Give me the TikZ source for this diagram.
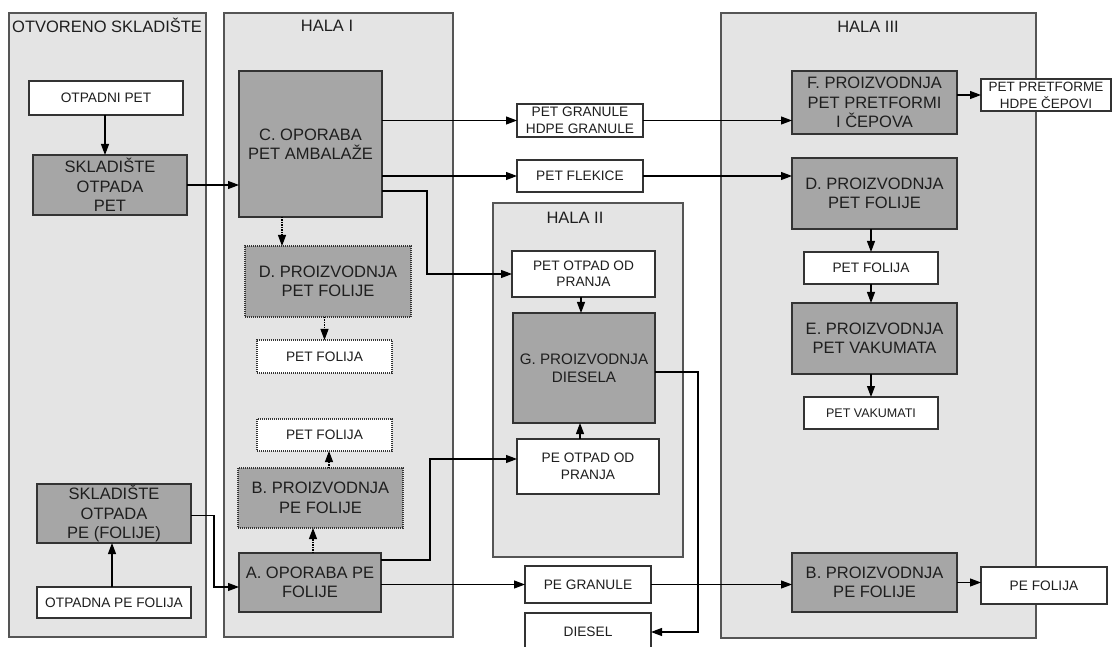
\documentclass[tikz,border=0pt]{standalone}
\usepackage{fontspec}
\setmainfont{Liberation Sans}
\usetikzlibrary{arrows.meta,calc}
\definecolor{cont}{HTML}{E4E4E4}
\definecolor{contb}{HTML}{555555}
\definecolor{gfill}{HTML}{A6A6A6}
\definecolor{bord}{HTML}{333333}
\definecolor{txt}{HTML}{1E1E1E}
\begin{document}
\begin{tikzpicture}[x=1pt,y=-1pt,
 sz/.style 2 args={minimum width=#1pt, minimum height=#2pt},
 container/.style={draw=contb, fill=cont, line width=1.5pt, inner sep=0, outer sep=0},
 title/.style={text=txt, font=\fontsize{16.5}{19.5}\selectfont, inner sep=0},
 gbox/.style={draw=bord, fill=gfill, line width=1.4pt, inner sep=0, outer sep=0, text=txt, align=center, font=\fontsize{16.5}{19.5}\selectfont},
 wbox/.style={draw=bord, fill=white, line width=1.4pt, inner sep=0, outer sep=0, text=txt, align=center, font=\fontsize{13.7}{16.5}\selectfont},
 dotb/.style={dash pattern=on 1pt off 1pt, line width=1.1pt},
 conn/.style={draw=black, line width=1.1pt, -{Triangle[length=11pt,width=8pt]}},
 dconn/.style={conn, dash pattern=on 1.5pt off 1pt}
]
\useasboundingbox (0,0) rectangle (1112,647);
% containers
\node[container, sz={197}{624}] (os) at (107.5,325) {};
\node[container, sz={229}{624}] (h1) at (338.5,325) {};
\node[container, sz={190}{354}] (h2) at (588,380) {};
\node[container, sz={315}{625}] (h3) at (878.5,325.5) {};
\node[title, anchor=west] (tos) at (12,25) {OTVORENO SKLADIŠTE};
\node[title] (th1) at (327,26) {HALA I};
\node[title] (th2) at (575,218) {HALA II};
\node[title] (th3) at (868,27) {HALA III};
% nodes
\node[wbox, sz={154}{34}] (otpet) at (106,98) {OTPADNI PET};
\node[gbox, sz={154}{60}] (skpet) at (110,185) {SKLADIŠTE\\OTPADA\\PET};
\node[gbox, sz={143}{146}] (C) at (310.5,144) {C. OPORABA\\PET AMBALAŽE};
\node[gbox, dotb, sz={166}{71}] (D1) at (328,281.5) {D. PROIZVODNJA\\PET FOLIJE};
\node[wbox, dotb, sz={135}{33}] (pf1) at (324.5,356.5) {PET FOLIJA};
\node[wbox, dotb, sz={135}{32}] (pf2) at (324.5,435) {PET FOLIJA};
\node[gbox, dotb, sz={165}{60}] (B1) at (320.5,498) {B. PROIZVODNJA\\PE FOLIJE};
\node[gbox, sz={142}{59}] (A) at (310,582.5) {A. OPORABA PE\\FOLIJE};
\node[gbox, sz={154}{59}] (skpe) at (114,513.5) {SKLADIŠTE\\OTPADA\\PE (FOLIJE)};
\node[wbox, sz={154}{31}] (otpe) at (114,602.5) {OTPADNA PE FOLIJA};
\node[wbox, sz={126}{33}] (gran) at (580,120.5) {PET GRANULE\\HDPE GRANULE};
\node[wbox, sz={126}{32}] (flek) at (580,176) {PET FLEKICE};
\node[wbox, sz={143}{46}] (petotp) at (583.5,274) {PET OTPAD OD\\PRANJA};
\node[gbox, sz={142}{110}, font=\fontsize{15.2}{18.3}\selectfont] (G) at (584,368) {G. PROIZVODNJA\\DIESELA};
\node[wbox, sz={142}{55}] (peotp) at (588,466.5) {PE OTPAD OD\\PRANJA};
\node[wbox, sz={126}{37}] (pegran) at (588,584.5) {PE GRANULE};
\node[wbox, sz={126}{38}] (diesel) at (588,632) {DIESEL};
\node[gbox, sz={165}{63}] (F) at (874.5,102.5) {F. PROIZVODNJA\\PET PRETFORMI\\I ČEPOVA};
\node[wbox, sz={130}{32}, font=\fontsize{13.5}{17}\selectfont] (pret) at (1046,95) {PET PRETFORME\\HDPE ČEPOVI};
\node[gbox, sz={165}{71}] (D3) at (874.5,193.5) {D. PROIZVODNJA\\PET FOLIJE};
\node[wbox, sz={134}{32}] (pf3) at (871,268) {PET FOLIJA};
\node[gbox, sz={165}{71}] (E) at (874.5,338.5) {E. PROIZVODNJA\\PET VAKUMATA};
\node[wbox, sz={134}{32}, font=\fontsize{12.5}{15}\selectfont] (vak) at (871,413) {PET VAKUMATI};
\node[gbox, sz={165}{59}] (B3) at (874.5,582.5) {B. PROIZVODNJA\\PE FOLIJE};
\node[wbox, sz={126}{37}] (pefol) at (1044,585.5) {PE FOLIJA};
% connectors between named nodes
\draw[conn] ([xshift=-1pt]otpet.south) -- ([xshift=-1pt]otpet.south |- skpet.north);
\draw[conn] (skpet.east) -- (skpet.east -| C.west);
\draw[conn] (C.east |- gran.west) -- (gran.west);
\draw[conn] (gran.east) -- (gran.east -| F.west);
\draw[conn] (C.east |- flek.west) -- (flek.west);
\draw[conn] (flek.east) -- (flek.east -| D3.west);
\draw[conn] ([yshift=-47pt]C.east) -- ++(45,0) |- (petotp.west);
\draw[dconn] ([xshift=-28.5pt]C.south) -- ([xshift=-28.5pt]C.south |- D1.north);
\draw[dconn] (pf1.north |- D1.south) -- (pf1.north);
\draw[dconn] ([xshift=8.5pt]B1.north) -- ([xshift=8.5pt]B1.north |- pf2.south);
\draw[dconn] ([xshift=3pt]A.north) -- ([xshift=3pt]A.north |- B1.south);
\draw[conn] ([yshift=-2pt]skpe.east) -- ++(23,0) |- ([yshift=-4.5pt]A.west);
\draw[conn] ([xshift=-2pt]otpe.north) -- ([xshift=-2pt]otpe.north |- skpe.south);
\draw[conn] ([yshift=22.5pt]A.east) -- ++(49,0) |- ([yshift=7.5pt]peotp.west);
\draw[conn] (A.east |- pegran.west) -- (pegran.west);
\draw[conn] (pegran.east) -- (pegran.east -| B3.west);
\draw[conn] (B3.east) -- (B3.east -| pefol.west);
\draw[conn] ([xshift=-2.5pt]petotp.south) -- ([xshift=-2.5pt]petotp.south |- G.north);
\draw[conn] ([xshift=-8pt]peotp.north) -- ([xshift=-8pt]peotp.north |- G.south);
\draw[conn] ([yshift=-4pt]G.east) -- ++(43,0) |- (diesel.east);
\draw[conn] (pret.west -| F.east) -- (pret.west);
\draw[conn] (pf3.north |- D3.south) -- (pf3.north);
\draw[conn] (pf3.south) -- (pf3.south |- E.north);
\draw[conn] (vak.north |- E.south) -- (vak.north);
\end{tikzpicture}
\end{document}
